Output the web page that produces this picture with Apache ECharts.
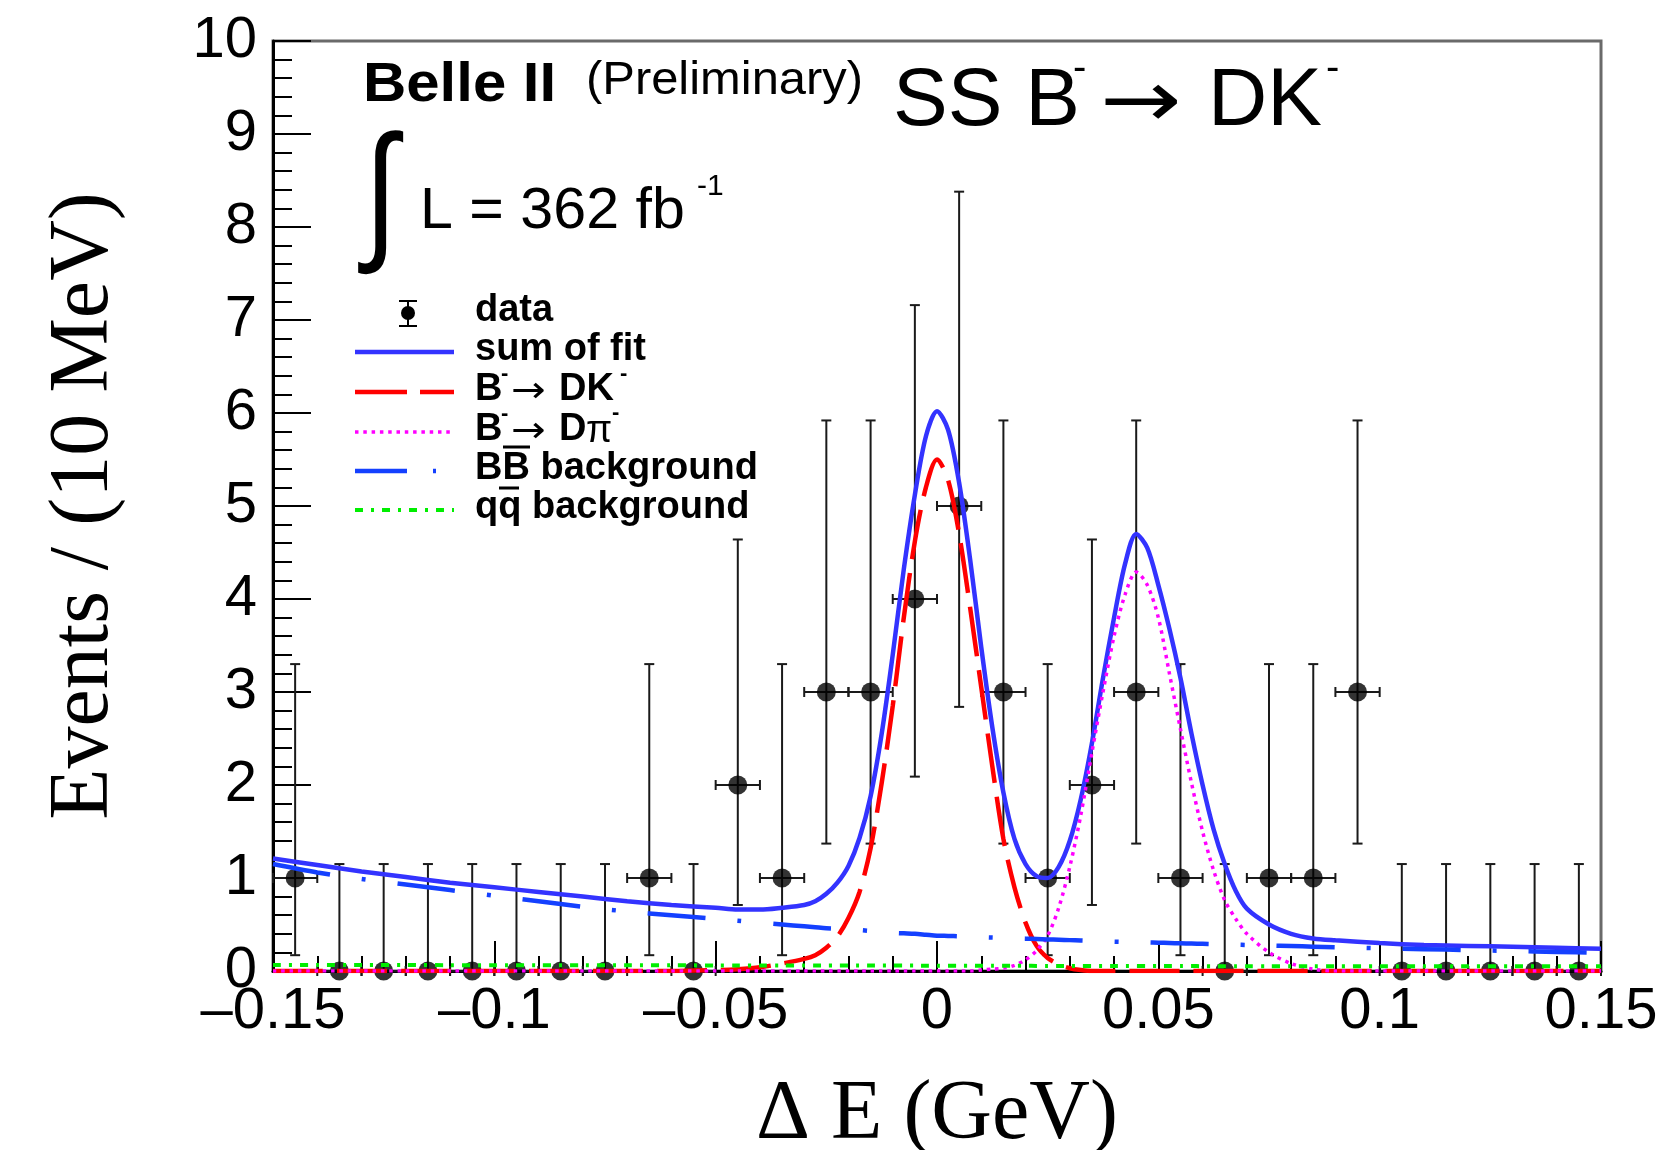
<!DOCTYPE html>
<html>
<head>
<meta charset="utf-8">
<script src="https://cdn.jsdelivr.net/npm/echarts@6/dist/echarts.min.js"></script>
<style>
html,body{margin:0;padding:0;background:#ffffff;}
#c{width:1676px;height:1150px;}
</style>
</head>
<body>
<div id="c"></div>
<script>
// ---------------- data ----------------
const binCenters = [-0.145,-0.135,-0.125,-0.115,-0.105,-0.095,-0.085,-0.075,-0.065,-0.055,
                    -0.045,-0.035,-0.025,-0.015,-0.005,0.005,0.015,0.025,0.035,0.045,
                    0.055,0.065,0.075,0.085,0.095,0.105,0.115,0.125,0.135,0.145];
const counts     = [1,0,0,0,0,0,0,0,1,0, 2,1,3,3,4,5,3,1,2,3, 1,0,1,1,3,0,0,0,0,0];
const errLow     = [0.83,0,0,0,0,0,0,0,0.83,0, 1.29,0.83,1.63,1.63,1.91,2.16,1.63,0.83,1.29,1.63, 0.83,0,0.83,0.83,1.63,0,0,0,0,0];
const errHigh    = [2.30,1.15,1.15,1.15,1.15,1.15,1.15,1.15,2.30,1.15, 2.64,2.30,2.92,2.92,3.16,3.38,2.92,2.30,2.64,2.92, 2.30,1.15,2.30,2.30,2.92,1.15,1.15,1.15,1.15,1.15];
const binHalfWidth = 0.005;

const curveX = [-0.15,-0.14,-0.13,-0.12,-0.11,-0.10,-0.09,-0.08,-0.07,-0.06,
                -0.05,-0.045,-0.04,-0.035,-0.03,-0.0275,-0.025,-0.0225,-0.02,-0.0175,
                -0.015,-0.0125,-0.01,-0.0075,-0.005,-0.0025,0,0.0025,0.005,0.0075,
                0.01,0.0125,0.015,0.0175,0.02,0.0225,0.025,0.0275,0.03,0.0325,
                0.035,0.0375,0.04,0.0425,0.045,0.0475,0.05,0.0525,0.055,0.0575,
                0.06,0.0625,0.065,0.0675,0.07,0.075,0.08,0.085,0.09,0.10,
                0.11,0.12,0.13,0.14,0.15];
const sumFit = [1.21,1.14,1.07,1.01,0.95,0.90,0.85,0.80,0.75,0.71,
                0.68,0.66,0.66,0.68,0.71,0.75,0.83,0.95,1.13,1.43,
                1.88,2.55,3.40,4.32,5.12,5.75,6.02,5.82,5.25,4.42,
                3.48,2.62,1.92,1.42,1.15,1.02,1.00,1.12,1.40,1.85,
                2.45,3.15,3.80,4.38,4.70,4.55,4.15,3.68,3.15,2.55,
                2.00,1.52,1.15,0.86,0.67,0.50,0.40,0.35,0.33,0.30,
                0.28,0.27,0.26,0.25,0.24];
const sigDK  = [0,0,0,0,0,0,0,0,0,0,
                0.01,0.02,0.04,0.08,0.13,0.17,0.25,0.37,0.57,0.85,
                1.32,2.02,2.85,3.80,4.62,5.20,5.50,5.28,4.70,3.90,
                3.05,2.20,1.42,0.90,0.52,0.27,0.14,0.07,0.03,0.01,
                0,0,0,0,0,0,0,0,0,0,
                0,0,0,0,0,0,0,0,0,0,
                0,0,0,0,0];
const sigDpi = [0,0,0,0,0,0,0,0,0,0,
                0,0,0,0,0,0,0,0,0,0,
                0,0,0,0,0,0,0,0,0,0,
                0.01,0.02,0.03,0.06,0.12,0.22,0.38,0.68,1.12,1.68,
                2.35,3.00,3.60,4.05,4.29,4.15,3.80,3.20,2.60,2.02,
                1.50,1.08,0.76,0.56,0.40,0.20,0.08,0.02,0,0,
                0,0,0,0,0];
const bbBkg  = [1.15,1.06,0.99,0.93,0.87,0.81,0.75,0.69,0.64,0.60,
                0.56,0.54,0.52,0.50,0.48,0.47,0.46,0.455,0.45,0.44,
                0.43,0.42,0.41,0.405,0.40,0.39,0.38,0.377,0.373,0.368,
                0.364,0.36,0.356,0.352,0.348,0.344,0.34,0.336,0.332,0.328,
                0.324,0.32,0.316,0.313,0.31,0.307,0.304,0.301,0.298,0.295,
                0.292,0.289,0.286,0.283,0.28,0.274,0.268,0.262,0.256,0.245,
                0.235,0.225,0.215,0.205,0.195];
const qqBkg  = [0.065,0.065,0.064,0.064,0.063,0.063,0.062,0.062,0.061,0.061,
                0.060,0.060,0.060,0.060,0.060,0.059,0.059,0.059,0.059,0.059,
                0.058,0.058,0.058,0.058,0.058,0.057,0.057,0.057,0.057,0.057,
                0.056,0.056,0.056,0.056,0.056,0.055,0.055,0.055,0.055,0.055,
                0.054,0.054,0.054,0.054,0.054,0.053,0.053,0.053,0.053,0.053,
                0.052,0.052,0.052,0.052,0.052,0.051,0.051,0.051,0.051,0.050,
                0.050,0.050,0.050,0.050,0.050];

const xTickLabels = ['\u20130.15','\u20130.1','\u20130.05','0','0.05','0.1','0.15'];
const yTickLabels = ['0','1','2','3','4','5','6','7','8','9','10'];

const seriesNames = ['data','sum of fit','B\u207B\u2192 DK\u207B','B\u207B\u2192 D\u03C0\u207B','BB\u0305 background','qq\u0305 background'];

// ---------------- chart ----------------
const X_MIN = -0.15, X_MAX = 0.15, X_STEP = 0.05;
const SANS = '"Liberation Sans", Arial, Helvetica, sans-serif';
const SERIF = '"Liberation Serif", "Times New Roman", serif';
const ARROWF = '"DejaVu Sans", sans-serif';

const chart = echarts.init(document.getElementById('c'), null, {renderer: 'canvas'});

function pts(arr) { return curveX.map((x, i) => [x, arr[i]]); }

function txt(x, y, text, size, weight, family, sx, sy) {
  return {
    type: 'text', x: x, y: y, z: 100, silent: true,
    scaleX: sx || 1, scaleY: sy || 1,
    style: {
      text: text, fill: '#000',
      font: (weight || 'normal') + ' ' + size + 'px ' + (family || SANS),
      textAlign: 'left', textVerticalAlign: 'middle'
    }
  };
}
function seg(x1, y1, x2, y2, color, w, dash) {
  return {
    type: 'line', z: 100, silent: true,
    shape: {x1: x1, y1: y1, x2: x2, y2: y2},
    style: {stroke: color, lineWidth: w, lineDash: dash || null}
  };
}

const COL_SUM = '#3333ff', COL_DK = '#ff0000', COL_DPI = '#ff00ff', COL_BB = '#1440ff', COL_QQ = '#00ee00';

const graphics = [
  // header
  txt(363, 86, 'Belle II', 56, 'bold', SANS, 1.07, 1),
  txt(586, 81, '(Preliminary)', 47, 'normal', SANS, 1.04, 1),
  txt(893, 102, 'SS B', 82, 'normal'),
  txt(1073, 69, '-', 40, 'normal'),
  txt(1100, 106, '\u2192', 80, 'normal', ARROWF, 1.22, 1),
  txt(1208, 102, 'DK', 82, 'normal'),
  txt(1326, 69, '-', 40, 'normal'),
  txt(364, 200, '\u222B', 152, 'normal', SANS, 0.8, 1),
  txt(420, 212, 'L = 362 fb', 58, 'normal', SANS, 1.02, 1),
  txt(697, 187, '-1', 30, 'normal'),
  // legend: data
  {type: 'circle', z: 100, silent: true, shape: {cx: 408, cy: 313, r: 7}, style: {fill: '#000'}},
  seg(408, 301, 408, 326, '#000', 2),
  seg(399, 301, 417, 301, '#000', 2),
  seg(399, 326, 417, 326, '#000', 2),
  txt(475, 311, 'data', 38, 'bold'),
  // sum
  seg(355, 352, 454, 352, COL_SUM, 4.5),
  txt(475, 350, 'sum of fit', 38, 'bold'),
  // DK
  seg(355, 392, 454, 392, COL_DK, 4.5, [52, 13]),
  txt(475, 390, 'B', 38, 'bold'),
  txt(501, 374, '-', 22, 'bold'),
  txt(511, 393, '\u2192', 36, 'normal', ARROWF, 1.15, 1),
  txt(559, 390, 'DK', 38, 'bold'),
  txt(620, 374, '-', 22, 'bold'),
  // Dpi
  seg(355, 432, 454, 432, COL_DPI, 3.5, [3.5, 4.8]),
  txt(475, 430, 'B', 38, 'bold'),
  txt(501, 414, '-', 22, 'bold'),
  txt(511, 433, '\u2192', 36, 'normal', ARROWF, 1.15, 1),
  txt(559, 430, 'D', 38, 'bold'),
  txt(586, 432, '\u03C0', 38, 'normal'),
  txt(612, 413, '-', 22, 'bold'),
  // BB
  seg(355, 471, 454, 471, COL_BB, 4.5, [52, 26, 3, 40]),
  txt(475, 469, 'BB background', 38, 'bold'),
  seg(503, 447, 530, 447, '#000', 3),
  // qq
  seg(355, 510, 454, 510, COL_QQ, 4, [8, 8, 3, 8]),
  txt(475, 508, 'qq background', 38, 'bold'),
  seg(499, 488, 519, 488, '#000', 3)
];

const option = {
  animation: false,
  backgroundColor: '#ffffff',
  grid: {left: 273, top: 41, width: 1328, height: 930, containLabel: false, outerBoundsMode: 'none',
         show: true, borderColor: '#6a6a6a', borderWidth: 3, backgroundColor: 'transparent'},
  xAxis: {
    type: 'value', min: X_MIN, max: X_MAX, interval: X_STEP,
    name: '\u0394 E (GeV)', nameLocation: 'middle', nameGap: 103,
    nameTextStyle: {fontFamily: SERIF, fontSize: 84, color: '#000'},
    axisLine: {show: true, onZero: false, lineStyle: {color: '#000', width: 3}},
    axisTick: {show: true, inside: true, length: 30, lineStyle: {color: '#000', width: 2}},
    minorTick: {show: true, splitNumber: 5, length: 15, lineStyle: {color: '#000', width: 2}},
    splitLine: {show: false},
    axisLabel: {
      margin: 12, fontFamily: SANS, fontSize: 58, color: '#000',
      formatter: v => xTickLabels[Math.round((v - X_MIN) / X_STEP)]
    }
  },
  yAxis: {
    type: 'value', min: 0, max: 10, interval: 1,
    name: 'Events / (10 MeV)', nameLocation: 'middle', nameGap: 146,
    nameTextStyle: {fontFamily: SERIF, fontSize: 84, color: '#000'},
    axisLine: {show: true, onZero: false, lineStyle: {color: '#000', width: 3}},
    axisTick: {show: true, inside: true, length: 38, lineStyle: {color: '#000', width: 2}},
    minorTick: {show: true, splitNumber: 5, length: 19, lineStyle: {color: '#000', width: 2}},
    splitLine: {show: false},
    axisLabel: {
      margin: 16, fontFamily: SANS, fontSize: 58, color: '#000',
      formatter: v => yTickLabels[Math.round(v)]
    }
  },
  graphic: graphics,
  series: [
    {
      name: seriesNames[0] + ' errors', type: 'custom', clip: false, silent: true, z: 2,
      data: binCenters.map((x, i) => [x, counts[i], errLow[i], errHigh[i]]),
      renderItem: function (params, api) {
        const x = api.value(0), y = api.value(1), lo = api.value(2), hi = api.value(3);
        const top = api.coord([x, y + hi]);
        const bot = api.coord([x, y - lo]);
        const l = api.coord([x - binHalfWidth, y]);
        const r = api.coord([x + binHalfWidth, y]);
        const st = {stroke: '#1a1a1a', lineWidth: 2};
        const ch = [
          {type: 'line', shape: {x1: top[0], y1: top[1], x2: bot[0], y2: bot[1]}, style: st},
          {type: 'line', shape: {x1: top[0] - 5, y1: top[1], x2: top[0] + 5, y2: top[1]}, style: st},
          {type: 'line', shape: {x1: l[0], y1: l[1], x2: r[0], y2: r[1]}, style: st},
          {type: 'line', shape: {x1: l[0], y1: l[1] - 5, x2: l[0], y2: l[1] + 5}, style: st},
          {type: 'line', shape: {x1: r[0], y1: r[1] - 5, x2: r[0], y2: r[1] + 5}, style: st}
        ];
        if (lo > 0) ch.push({type: 'line', shape: {x1: bot[0] - 5, y1: bot[1], x2: bot[0] + 5, y2: bot[1]}, style: st});
        return {type: 'group', children: ch};
      }
    },
    {
      name: seriesNames[0], type: 'scatter', clip: false, z: 2, symbol: 'circle', symbolSize: 19,
      itemStyle: {color: '#000'},
      data: binCenters.map((x, i) => [x, counts[i]])
    },
    {name: seriesNames[1], type: 'line', z: 3, showSymbol: false, smooth: 0.3, data: pts(sumFit),
     lineStyle: {color: COL_SUM, width: 4.5}},
    {name: seriesNames[2], type: 'line', z: 3, showSymbol: false, smooth: 0.3, data: pts(sigDK),
     lineStyle: {color: COL_DK, width: 4.5, type: [50, 14]}},
    {name: seriesNames[3], type: 'line', z: 3, showSymbol: false, smooth: 0.3, data: pts(sigDpi),
     lineStyle: {color: COL_DPI, width: 3.5, type: [3.5, 4.8]}},
    {name: seriesNames[4], type: 'line', z: 3, showSymbol: false, smooth: 0.3, data: pts(bbBkg),
     lineStyle: {color: COL_BB, width: 4.5, type: [58, 32, 4, 32]}},
    {name: seriesNames[5], type: 'line', z: 3, showSymbol: false, smooth: 0.3, data: pts(qqBkg),
     lineStyle: {color: COL_QQ, width: 4, type: [8, 8, 3, 8]}}
  ]
};
chart.setOption(option);
</script>
</body>
</html>
